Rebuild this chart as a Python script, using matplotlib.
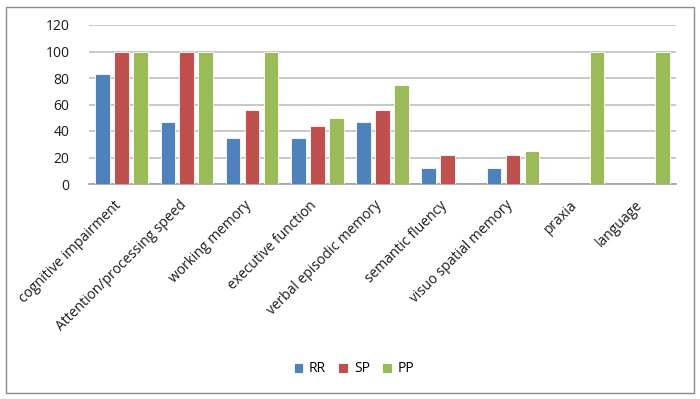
import matplotlib
matplotlib.use("Agg")
import matplotlib.pyplot as plt
from matplotlib.patches import Rectangle
from matplotlib.transforms import ScaledTranslation
import numpy as np

categories = ["cognitive impairment", "Attention/processing speed", "working memory",
              "executive function", "verbal episodic memory", "semantic fluency",
              "visuo spatial memory", "praxia", "language"]
series_names = ["RR", "SP", "PP"]
RR = [83, 47, 35, 35, 47, 12, 12, 0, 0]
SP = [100, 100, 56, 44, 56, 22, 22, 0, 0]
PP = [100, 100, 100, 50, 75, 0, 25, 100, 100]
yticks = [0, 20, 40, 60, 80, 100, 120]
colors = ["#4F81BD", "#C0504D", "#9BBB59"]

plt.rcParams['font.family'] = ['Open Sans', 'DejaVu Sans']

fig = plt.figure(figsize=(7.0, 3.99), dpi=100)
W, H = 700, 399
ax = fig.add_axes([89 / W, 1 - 184 / H, (676 - 89) / W, (184 - 25) / H])

x = np.arange(len(categories))
step = 0.29
width = 0.225
for i, (vals, name) in enumerate(zip([RR, SP, PP], series_names)):
    ax.bar(x + (i - 1) * step, vals, width, color=colors[i], label=name,
           edgecolor="white", linewidth=0.6, zorder=3)

ax.set_xlim(-0.5, len(categories) - 0.5)
ax.set_ylim(0, 120)
ax.set_yticks(yticks)
ax.set_yticklabels([str(v) for v in yticks], fontsize=10, color="#1a1a1a")
ax.yaxis.grid(True, color="#BFBFBF", linewidth=1.2, zorder=0)
ax.set_axisbelow(True)
for s in ["left", "right", "top"]:
    ax.spines[s].set_visible(False)
ax.spines["bottom"].set_color("#A0A0A0")
ax.spines["bottom"].set_linewidth(1.2)
ax.tick_params(axis="y", length=0, pad=14)
ax.tick_params(axis="x", length=0, pad=10)
ax.set_xticks(x)
ax.set_xticklabels(categories, rotation=45, ha="right", rotation_mode="anchor",
                   fontsize=10, color="#1a1a1a")
offset = ScaledTranslation(-8 / 100, 0, fig.dpi_scale_trans)
for lbl in ax.get_xticklabels():
    lbl.set_transform(lbl.get_transform() + offset)

leg = fig.legend(loc="center", bbox_to_anchor=(354 / W, 1 - 369 / H), ncol=3,
                 frameon=False, fontsize=10, handlelength=0.7, handleheight=0.7,
                 handletextpad=0.4, columnspacing=0.9)

fig.patches.append(Rectangle((6 / W, 1 - 393 / H), (694 - 6) / W, (393 - 7) / H,
                             transform=fig.transFigure, fill=False,
                             edgecolor="#8C8C8C", linewidth=1.0))

fig.savefig("out.png", dpi=100)
